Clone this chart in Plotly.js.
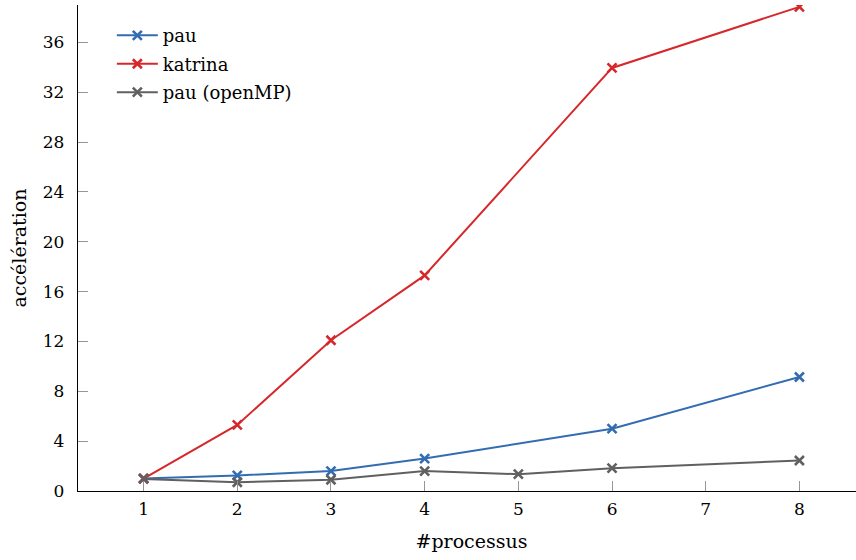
<!DOCTYPE html>
<html>
<head>
<meta charset="utf-8">
<script src="https://cdn.plot.ly/plotly-3.0.1.min.js"></script>
<style>
html,body{margin:0;padding:0;overflow:hidden;background:#fff;}
#chart{width:866px;height:560px;}
</style>
</head>
<body>
<div id="chart"></div>
<script>
const procs = [1, 2, 3, 4, 6, 8];
const pau = [1.0, 1.25, 1.6, 2.6, 5.0, 9.15];
const katrina = [1.0, 5.3, 12.1, 17.3, 33.95, 38.85];
const procsOmp = [1, 2, 3, 4, 5, 6, 8];
const pauOmp = [0.97, 0.7, 0.9, 1.6, 1.35, 1.83, 2.45];
const xTicks = [1, 2, 3, 4, 5, 6, 7, 8];
const yTicks = [0, 4, 8, 12, 16, 20, 24, 28, 32, 36];

const FONT = 'DejaVu Serif, Liberation Serif, serif';
function series(x, y, name, color, group) {
  return {
    x: x, y: y, name: name, type: 'scatter', mode: 'lines+markers',
    legendgroup: group,
    line: {color: color, width: 2},
    marker: {symbol: 'x-thin', size: 9, color: color, line: {color: color, width: 2.6}}
  };
}
const traces = [
  series(procs, pau, 'pau', 'rgb(52,108,178)', 'a'),
  series(procs, katrina, 'katrina', 'rgb(214,40,42)', 'b'),
  series(procsOmp, pauOmp, 'pau (openMP)', 'rgb(96,96,96)', 'c')
];

const grey = 'rgb(150,150,150)';
const layout = {
  width: 866, height: 560,
  margin: {l: 78, r: 1, t: 5, b: 69},
  paper_bgcolor: '#fff', plot_bgcolor: '#fff',
  font: {family: FONT, size: 17, color: '#000'},
  showlegend: true,
  legend: {
    x: 0.043, y: 0.975, xanchor: 'left', yanchor: 'top',
    bgcolor: 'rgba(255,255,255,0)', borderwidth: 0,
    font: {family: FONT, size: 18, color: '#000'},
    traceorder: 'grouped', tracegroupgap: 2, itemwidth: 41
  },
  xaxis: {
    range: [0.3, 8.7], tickvals: xTicks, ticktext: xTicks.map(String),
    ticks: 'inside', ticklen: 10, tickcolor: grey, tickwidth: 1,
    showline: true, linecolor: '#000', linewidth: 1.2,
    showgrid: false, zeroline: false, ticklabelstandoff: 2,
    title: {text: '#processus', font: {family: FONT, size: 19}, standoff: 17}
  },
  yaxis: {
    range: [0, 39.0], tickvals: yTicks, ticktext: yTicks.map(String),
    ticks: 'inside', ticklen: 10, tickcolor: grey, tickwidth: 1,
    showline: true, linecolor: '#000', linewidth: 1.2,
    showgrid: false, zeroline: false, ticklabelstandoff: 9,
    title: {text: 'accélération', font: {family: FONT, size: 19}, standoff: 11}
  },
  xaxis2: {
    overlaying: 'x', side: 'top', matches: 'x', range: [0.3, 8.7],
    tickvals: xTicks, ticks: 'inside', ticklen: 10, tickcolor: grey,
    showticklabels: false, showline: true, linecolor: 'rgb(110,110,110)', linewidth: 1.2,
    showgrid: false, zeroline: false
  },
  yaxis2: {
    overlaying: 'y', side: 'right', matches: 'y', range: [0, 39.0],
    tickvals: yTicks, ticks: 'inside', ticklen: 10, tickcolor: grey,
    showticklabels: false, showline: true, linecolor: 'rgb(110,110,110)', linewidth: 1.2,
    showgrid: false, zeroline: false
  }
};
Plotly.newPlot('chart', traces, layout, {displayModeBar: false, staticPlot: true});
</script>
</body>
</html>
